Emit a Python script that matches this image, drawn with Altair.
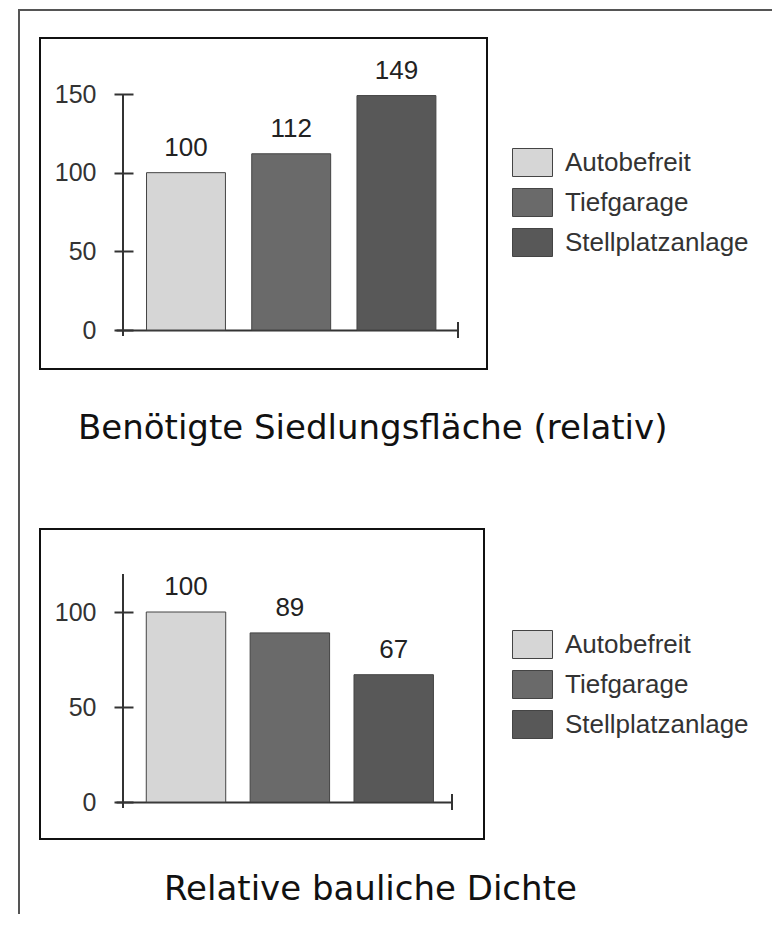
import altair as alt
import pandas as pd

categories = ["Autobefreit", "Tiefgarage", "Stellplatzanlage"]
flaeche_values = [100, 112, 149]
dichte_values = [100, 89, 67]
flaeche_ticks = [0, 50, 100, 150]
dichte_ticks = [0, 50, 100]
flaeche_max = 150
dichte_max = 120
title_top = "Benötigte Siedlungsfläche (relativ)"
title_bottom = "Relative bauliche Dichte"
bar_colors = ["#d6d6d6", "#6a6a6a", "#585858"]

AX = "#333333"
LF = "Liberation Sans"
TF = "DejaVu Sans"


def panel(values, ticks, ymax, W, H, pi, po, al, title, box, legend_y, title_x,
          title_y, outer=None):
    df = pd.DataFrame({"Kategorie": categories, "Wert": values})
    base = alt.Chart(df)
    xenc = alt.X(
        "Kategorie:N", sort=categories,
        scale=alt.Scale(paddingInner=pi, paddingOuter=po, align=al),
        axis=alt.Axis(title=None, labels=False, ticks=False, domain=True,
                      domainColor=AX, domainWidth=2),
    )
    yenc = alt.Y(
        "Wert:Q",
        scale=alt.Scale(domain=[0, ymax], nice=False, zero=True),
        axis=alt.Axis(title=None, values=ticks, grid=False, domain=False,
                      offset=-17, tickSize=19, tickWidth=2, tickColor=AX,
                      labelPadding=18, labelFont=LF, labelFontSize=25,
                      labelColor=AX),
    )
    bars = base.mark_bar(stroke="#444444", strokeWidth=1).encode(
        x=xenc,
        y=yenc,
        color=alt.Color(
            "Kategorie:N", sort=categories,
            scale=alt.Scale(domain=categories, range=bar_colors),
            legend=alt.Legend(
                title=None, orient="none", legendX=396, legendY=legend_y,
                symbolType="M-1,-0.7H1V0.7H-1Z", symbolSize=1600,
                symbolStrokeColor="#444444", symbolStrokeWidth=1,
                symbolOpacity=1, labelFont=LF, labelFontSize=26,
                labelColor="#333333", labelOffset=12, labelLimit=400,
                rowPadding=3, padding=0,
            ),
        ),
    )
    labels = base.mark_text(baseline="alphabetic", dy=-17, font=LF,
                            fontSize=26, color="#222222").encode(
        x=alt.X("Kategorie:N", sort=categories),
        y=alt.Y("Wert:Q"),
        text=alt.Text("Wert:Q"),
    )
    deco = alt.Chart(pd.DataFrame({"d": [0]}))
    yline = deco.mark_rule(color=AX, strokeWidth=2).encode(
        x=alt.value(7), y=alt.value(0), y2=alt.value(H + 6))
    endtick = deco.mark_rule(color=AX, strokeWidth=2).encode(
        x=alt.value(W), y=alt.value(H - 8), y2=alt.value(H + 8))
    frame = deco.mark_rect(fillOpacity=0, stroke="#111111",
                           strokeWidth=2).encode(
        x=alt.value(box[0]), x2=alt.value(box[1]),
        y=alt.value(box[2]), y2=alt.value(box[3]))
    caption = deco.mark_text(text=title, align="left", baseline="alphabetic",
                             font=TF, fontSize=34, color="#111111").encode(
        x=alt.value(title_x), y=alt.value(title_y))
    layers = [frame, bars, labels, yline, endtick, caption]
    if outer is not None:
        top_line = deco.mark_rule(color="#555555", strokeWidth=2).encode(
            x=alt.value(outer[0]), x2=alt.value(outer[1]),
            y=alt.value(outer[2]))
        left_line = deco.mark_rule(color="#555555", strokeWidth=2).encode(
            x=alt.value(outer[0]), y=alt.value(outer[2] - 1),
            y2=alt.value(outer[3]))
        layers = [top_line, left_line] + layers
    return alt.layer(*layers).properties(width=W, height=H)


top = panel(flaeche_values, flaeche_ticks, flaeche_max, 342, 236,
            0.25, 0.25, 0.58, title_top, (-76, 371, -56, 275), 48, -38, 345,
            outer=(-97, 656, -84, 820))
bottom = panel(dichte_values, dichte_ticks, dichte_max, 336, 228,
               0.235, 0.235, 0.62, title_bottom, (-76, 368, -45, 265), 50,
               48, 326)

chart = alt.vconcat(top, bottom, spacing=244, bounds="flush",
                    padding={"left": 10, "top": 0, "right": 0, "bottom": 0}
                    ).resolve_scale(
    x="independent", y="independent"
).resolve_legend(color="independent").configure_view(stroke=None)

chart.save("out.html", embed_options={"renderer": "svg", "actions": False})
